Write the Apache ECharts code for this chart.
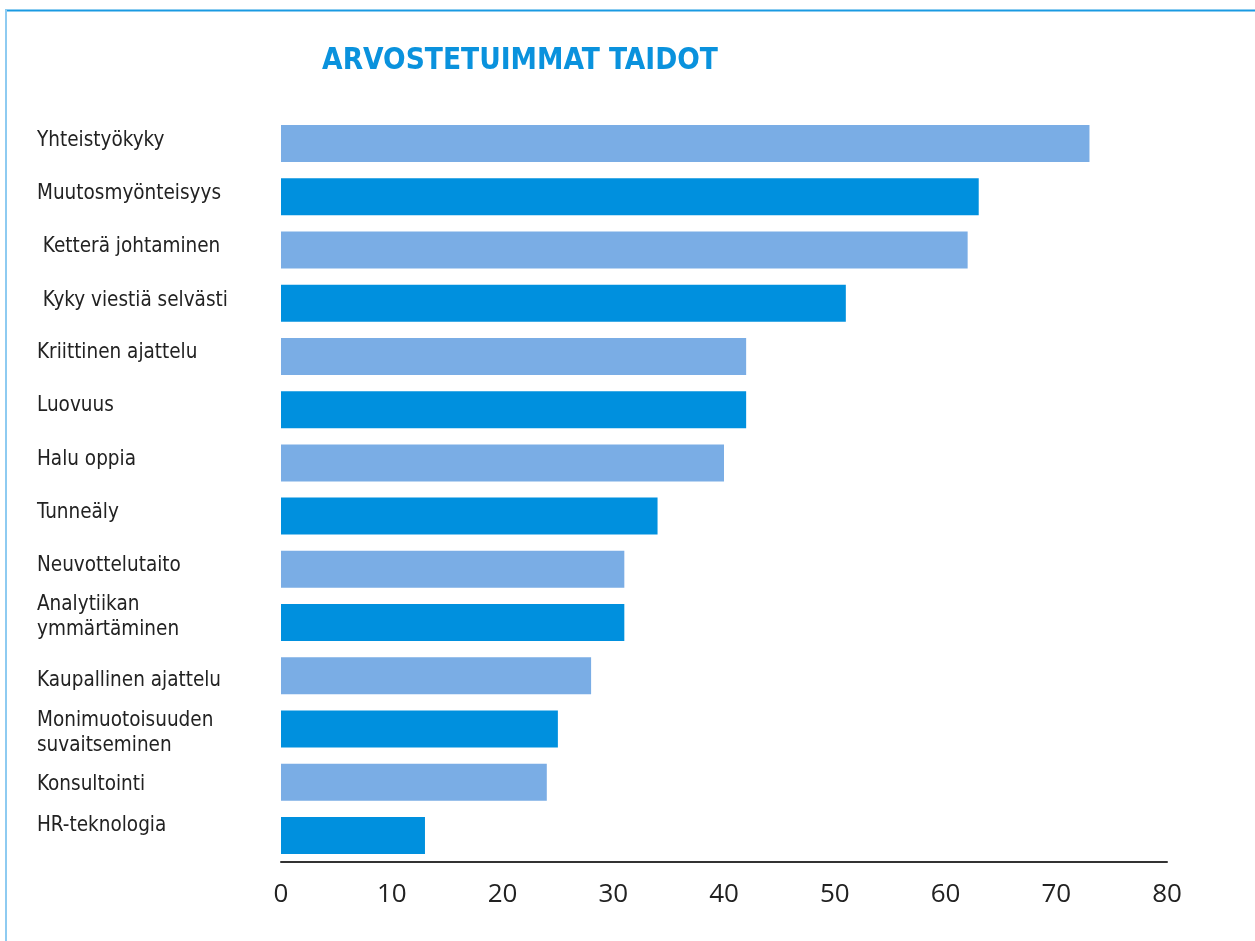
<!DOCTYPE html>
<html>
<head>
<meta charset="utf-8">
<title>Arvostetuimmat taidot</title>
<script src="https://cdn.jsdelivr.net/npm/echarts@6/dist/echarts.min.js"></script>
<style>
  html, body { margin: 0; padding: 0; background: #ffffff; }
  #chart { width: 1255px; height: 941px; }
</style>
</head>
<body>
<div id="chart"></div>
<script>
// Skills, top to bottom
const skills = [
  'Yhteistyökyky',
  'Muutosmyönteisyys',
  ' Ketterä johtaminen',
  ' Kyky viestiä selvästi',
  'Kriittinen ajattelu',
  'Luovuus',
  'Halu oppia',
  'Tunneäly',
  'Neuvottelutaito',
  'Analytiikan\nymmärtäminen',
  'Kaupallinen ajattelu',
  'Monimuotoisuuden\nsuvaitseminen',
  'Konsultointi',
  'HR-teknologia'
];

// Share of respondents per skill
const values = [73, 63, 62, 51, 42, 42, 40, 34, 31, 31, 28, 25, 24, 13];

// Value axis tick labels
const xTicks = [0, 10, 20, 30, 40, 50, 60, 70, 80];

// Vertical nudge of each skill label relative to its bar (px, negative = up)
const labelNudge = [-3, -3, -3, -3, -4, -4, -3, -3, -4, -5, 5, 4, 2, -10];

const LIGHT = '#7aade5';
const DARK = '#0090de';

const LABEL_FONT = '"DejaVu Sans Condensed", "DejaVu Sans", sans-serif';

const skillLabelStyle = {
  align: 'left',
  verticalAlign: 'middle',
  color: '#222222',
  fontSize: 20.5,
  lineHeight: 25,
  fontFamily: LABEL_FONT,
  rich: {
    t: { color: '#222222', fontSize: 20.5, lineHeight: 25, fontFamily: LABEL_FONT }
  }
};

// Rich-text labels so that the box padding shifts each label vertically
const categoryData = skills.map((name, i) => {
  const d = labelNudge[i];
  return {
    value: name,
    textStyle: Object.assign({}, skillLabelStyle, {
      padding: d < 0 ? [0, 0, -2 * d, 0] : [2 * d, 0, 0, 0]
    })
  };
});

const chart = echarts.init(document.getElementById('chart'), null, { renderer: 'canvas' });

chart.setOption({
  animation: false,
  backgroundColor: '#ffffff',
  title: {
    text: 'ARVOSTETUIMMAT TAIDOT',
    left: 520,
    top: 46,
    textAlign: 'center',
    padding: 0,
    textStyle: {
      fontFamily: '"DejaVu Sans Condensed", "DejaVu Sans", sans-serif',
      fontWeight: 'bold',
      fontSize: 29.5,
      color: '#0a92dd'
    }
  },
  graphic: [
    { type: 'line', shape: { x1: 5, y1: 10.5, x2: 1255, y2: 10.5 },
      style: { stroke: '#1a9ae2', lineWidth: 2 }, silent: true },
    { type: 'line', shape: { x1: 6, y1: 10, x2: 6, y2: 941 },
      style: { stroke: '#8ecbf1', lineWidth: 2 }, silent: true }
  ],
  grid: {
    left: 281,
    right: 88,
    top: 117,
    bottom: 79,
    containLabel: false,
    outerBoundsMode: 'none'
  },
  xAxis: {
    type: 'value',
    min: 0,
    max: 80,
    interval: 10,
    splitLine: { show: false },
    axisTick: { show: false },
    axisLine: { show: true, lineStyle: { color: '#333333', width: 2 } },
    axisLabel: {
      margin: 20,
      color: '#222222',
      fontSize: 26,
      fontFamily: '"Open Sans", sans-serif',
      formatter: v => (xTicks.indexOf(v) >= 0 ? String(v) : '')
    }
  },
  yAxis: {
    type: 'category',
    inverse: true,
    data: categoryData,
    axisLine: { show: false },
    axisTick: { show: false },
    splitLine: { show: false },
    axisLabel: Object.assign({
      interval: 0,
      margin: 244,
      formatter: v => v.split('\n').map(s => '{t|' + s + '}').join('\n')
    }, skillLabelStyle)
  },
  series: [{
    type: 'bar',
    data: values.map((v, i) => ({
      value: v,
      itemStyle: { color: i % 2 === 0 ? LIGHT : DARK }
    })),
    barWidth: 37,
    silent: true
  }]
});
</script>
</body>
</html>
